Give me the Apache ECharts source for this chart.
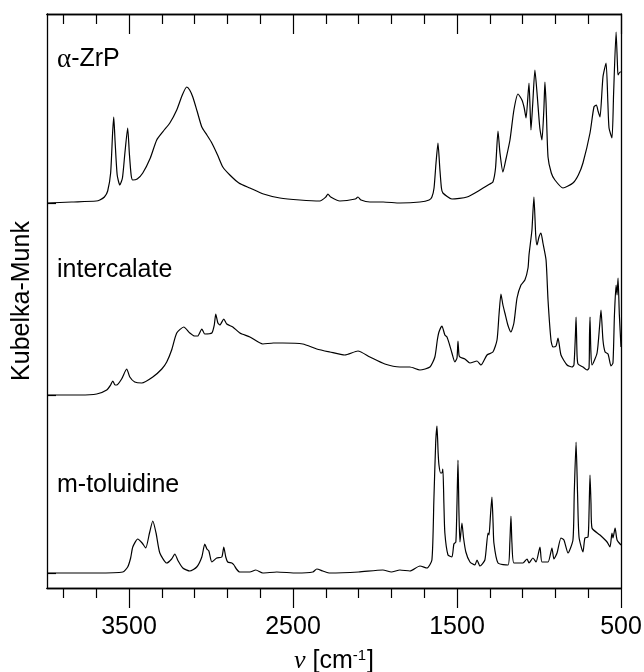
<!DOCTYPE html>
<html>
<head>
<meta charset="utf-8">
<script src="https://cdn.jsdelivr.net/npm/echarts@6/dist/echarts.min.js"></script>
<style>
  html, body { margin: 0; padding: 0; background: #fff; }
  #chart { width: 644px; height: 672px; }
</style>
</head>
<body>
<div id="chart"></div>
<script>
// spectra: [wavenumber cm-1, Kubelka-Munk (arb.)]
const alphaZrP = [
  [4000,0],[3850,1],[3700,2],[3678,3],[3650,6],[3630,12],[3612,30],[3600,70],[3593,86],[3585,62],
  [3572,28],[3556,18],[3540,25],[3525,50],[3508,75],[3498,50],[3487,28],[3477,23],[3450,24],[3416,30],
  [3370,45],[3331,63],[3290,72],[3251,80],[3209,93],[3175,108],[3148,116],[3130,113],[3111,106],[3085,92],
  [3056,76],[3025,68],[2995,60],[2960,48],[2928,36],[2885,28],[2830,20],[2763,15],[2680,9],[2580,5],
  [2458,3],[2336,2],[2300,6],[2287,9],[2270,6],[2214,2],[2120,4],[2104,6],[2085,3],[2031,1],
  [1950,1],[1848,0],[1726,1],[1670,3],[1653,6],[1640,15],[1628,40],[1616,60],[1605,35],[1595,15],
  [1586,10],[1531,4],[1439,6],[1360,13],[1300,19],[1281,21],[1265,35],[1250,72],[1238,50],[1220,31],
  [1200,45],[1177,63],[1153,93],[1128,109],[1104,103],[1090,95],[1079,85],[1061,120],[1049,73],[1038,100],
  [1025,133],[1012,110],[995,75],[982,63],[970,95],[964,121],[957,100],[945,46],[925,30],[903,23],
  [854,15],[793,20],[760,28],[732,40],[689,70],[665,96],[650,98],[640,92],[628,86],[610,126],
  [591,140],[580,100],[573,75],[555,65],[545,110],[530,171],[522,140],[518,128],[506,131],[500,131]
];
const intercalate = [
  [4000,0],[3800,0],[3697,1],[3636,5],[3612,10],[3599,14],[3585,10],[3575,10],[3545,16],[3514,26],
  [3495,18],[3465,13],[3422,12],[3355,18],[3300,26],[3270,33],[3240,45],[3209,62],[3166,68],[3129,62],
  [3100,59],[3081,59],[3056,66],[3038,61],[2995,62],[2980,70],[2971,81],[2958,72],[2946,70],[2922,76],
  [2904,71],[2867,68],[2824,62],[2763,58],[2684,51],[2620,52],[2562,52],[2440,51],[2355,46],[2275,43],
  [2184,40],[2104,44],[2031,38],[1940,31],[1848,28],[1787,28],[1726,25],[1665,28],[1635,38],[1620,55],
  [1610,63],[1592,69],[1574,60],[1561,58],[1545,50],[1531,42],[1513,33],[1500,37],[1494,54],[1488,40],
  [1482,38],[1452,36],[1421,32],[1378,34],[1354,30],[1317,40],[1281,43],[1256,55],[1244,80],[1232,101],
  [1220,90],[1208,82],[1190,70],[1171,63],[1153,72],[1134,97],[1110,110],[1086,115],[1067,127],[1061,140],
  [1050,155],[1043,165],[1031,198],[1020,160],[1012,150],[1000,158],[988,162],[976,152],[957,135],[945,95],
  [927,55],[915,48],[896,49],[884,57],[866,40],[829,30],[799,28],[787,30],[778,60],[774,78],
  [768,40],[762,31],[732,28],[707,25],[695,27],[692,60],[689,78],[684,45],[677,30],[646,42],
  [630,70],[622,85],[610,55],[597,43],[579,41],[561,29],[549,32],[540,80],[530,110],[524,100],
  [518,117],[510,80],[500,48]
];
const mToluidine = [
  [4000,0],[3700,0],[3538,1],[3508,6],[3490,15],[3477,26],[3447,34],[3420,30],[3398,25],[3375,40],
  [3355,52],[3335,40],[3312,20],[3270,10],[3240,14],[3221,19],[3200,12],[3172,5],[3129,2],[3087,6],
  [3056,16],[3038,29],[3025,24],[3013,22],[2995,11],[2965,15],[2934,16],[2922,26],[2910,16],[2898,11],
  [2873,10],[2860,8],[2845,4],[2825,1],[2763,1],[2727,3],[2684,0],[2599,1],[2477,0],[2379,1],
  [2355,4],[2318,2],[2275,0],[2100,1],[1952,3],[1900,1],[1848,3],[1787,2],[1726,7],[1683,5],
  [1653,13],[1641,73],[1630,130],[1622,147],[1615,120],[1610,108],[1600,100],[1592,100],[1586,104],[1580,70],
  [1574,40],[1555,18],[1531,16],[1519,29],[1507,31],[1500,70],[1494,113],[1488,60],[1482,31],[1470,50],
  [1460,35],[1446,21],[1421,11],[1391,8],[1378,13],[1360,7],[1330,13],[1311,40],[1305,38],[1295,60],
  [1287,76],[1280,50],[1275,30],[1250,10],[1189,8],[1178,30],[1171,57],[1165,30],[1153,10],[1098,10],
  [1073,14],[1061,10],[1037,15],[1018,11],[994,26],[982,11],[945,11],[921,25],[909,14],[890,20],
  [866,35],[848,33],[823,20],[793,33],[785,80],[774,131],[765,80],[756,36],[732,21],[720,35],
  [701,36],[695,60],[689,98],[683,70],[677,45],[628,38],[585,31],[567,26],[555,40],[549,35],
  [536,45],[524,33],[500,28]
];

const sampleNames = ['α-ZrP', 'intercalate', 'm-toluidine'];
const sampleSpectra = [alphaZrP, intercalate, mToluidine];
const sampleOffsets = [385, 193, 15];   // vertical shift of each trace

const majorTicks = [3500, 2500, 1500, 500];
const minorTicks = [3900, 3700, 3300, 3100, 2900, 2700, 2300, 2100, 1900, 1700, 1300, 1100, 900, 700];

const chart = echarts.init(document.getElementById('chart'));
const FONT = 'Liberation Sans, Arial, Helvetica, sans-serif';
const SERIF = 'Liberation Serif, Times New Roman, serif';
const black = '#000';

function xAxisBase(pos) {
  return {
    type: 'value', position: pos, min: 500, max: 4000, inverse: true,
    splitLine: { show: false },
    axisLine: { show: true, onZero: false, lineStyle: { color: black, width: 1.3 } },
    axisLabel: { show: false }
  };
}

const option = {
  animation: false,
  backgroundColor: '#fff',
  grid: { left: 47, right: 23, top: 14, bottom: 84, outerBoundsMode: 'none', containLabel: false },
  xAxis: [
    Object.assign(xAxisBase('bottom'), {
      axisTick: { show: true, inside: false, length: 10, customValues: minorTicks, lineStyle: { color: black, width: 1.2 } }
    }),
    Object.assign(xAxisBase('bottom'), {
      axisTick: { show: true, inside: false, length: 20, customValues: majorTicks, lineStyle: { color: black, width: 1.2 } },
      axisLabel: {
        show: true, customValues: majorTicks, margin: 27,
        formatter: v => String(v),
        fontFamily: FONT, fontSize: 25, color: black
      },
      name: '{nu|ν} [cm{sup|-1}]',
      nameLocation: 'middle',
      nameGap: 60,
      nameTextStyle: {
        fontFamily: FONT, fontSize: 25, color: black,
        rich: {
          nu: { fontFamily: SERIF, fontStyle: 'italic', fontSize: 26, color: black },
          sup: { fontFamily: FONT, fontSize: 15, color: black, verticalAlign: 'top', padding: [0, 1, 0, 0] }
        }
      }
    }),
    Object.assign(xAxisBase('top'), {
      axisTick: { show: true, inside: true, length: 10, customValues: minorTicks, lineStyle: { color: black, width: 1.2 } }
    }),
    Object.assign(xAxisBase('top'), {
      axisTick: { show: true, inside: true, length: 20, customValues: majorTicks, lineStyle: { color: black, width: 1.2 } }
    })
  ],
  yAxis: [
    {
      type: 'value', position: 'left', min: 0, max: 574,
      splitLine: { show: false },
      axisLine: { show: true, onZero: false, lineStyle: { color: black, width: 1.3 } },
      axisTick: { show: true, inside: true, length: 9, customValues: sampleOffsets, lineStyle: { color: black, width: 1.2 } },
      axisLabel: { show: false },
      name: 'Kubelka-Munk',
      nameLocation: 'middle',
      nameGap: 12,
      nameTextStyle: { fontFamily: FONT, fontSize: 25, color: black }
    },
    {
      type: 'value', position: 'right', min: 0, max: 574,
      splitLine: { show: false },
      axisLine: { show: true, onZero: false, lineStyle: { color: black, width: 1.3 } },
      axisTick: { show: false },
      axisLabel: { show: false }
    }
  ],
  series: sampleSpectra.map((spec, i) => ({
    name: sampleNames[i],
    type: 'line',
    xAxisIndex: 1,
    yAxisIndex: 0,
    showSymbol: false,
    smooth: 0.2,
    lineStyle: { color: black, width: 1.2 },
    data: spec.map(p => [p[0], p[1] + sampleOffsets[i]])
  })),
  graphic: [
    {
      type: 'text', left: 57, top: 46,
      style: {
        text: '{a|α}-ZrP', fontFamily: FONT, fontSize: 25, fill: black,
        rich: { a: { fontFamily: SERIF, fontSize: 27, fill: black } }
      }
    },
    { type: 'text', left: 57, top: 258, style: { text: 'intercalate', fontFamily: FONT, fontSize: 25, fill: black } },
    { type: 'text', left: 57, top: 473, style: { text: 'm-toluidine', fontFamily: FONT, fontSize: 25, fill: black } }
  ]
};

chart.setOption(option);
</script>
</body>
</html>
